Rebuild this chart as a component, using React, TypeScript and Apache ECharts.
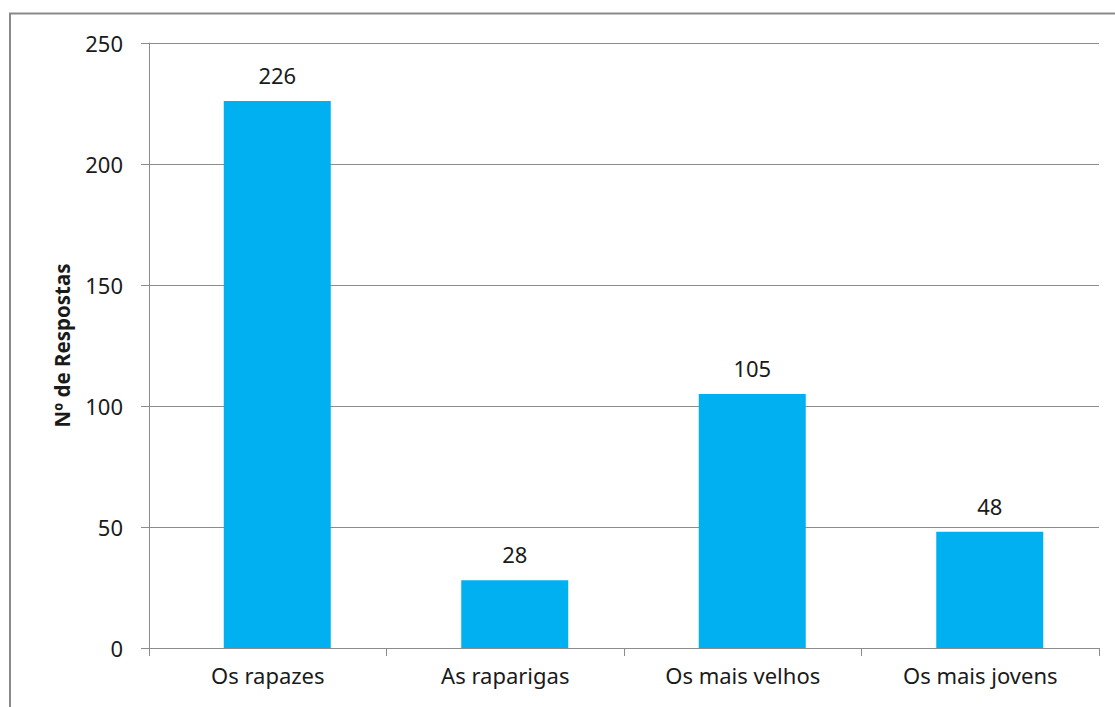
import React, { useEffect, useRef } from "react";
import * as echarts from "echarts";

const categories = ["Os rapazes", "As raparigas", "Os mais velhos", "Os mais jovens"];
const responses = [226, 28, 105, 48];
const spacer = ["-", "-", "-", "-"];
const yTicks = { min: 0, max: 250, interval: 50 };
const yAxisName = "Nº de Respostas";

export default function App() {
  const ref = useRef<HTMLDivElement>(null);
  useEffect(() => {
    const chart = echarts.init(ref.current!, undefined, { renderer: "svg" });
    const font = "Noto Sans";
    chart.setOption({
      animation: false,
      backgroundColor: "#ffffff",
      textStyle: { fontFamily: font, color: "#1a1a1a" },
      graphic: [
        {
          type: "rect",
          shape: { x: 10, y: 13.5, width: 1200, height: 800 },
          style: { fill: "none", stroke: "#898989", lineWidth: 2 },
          silent: true,
        },
      ],
      grid: { left: 149, top: 43, right: 16, bottom: 59, containLabel: false },
      xAxis: {
        type: "category",
        data: categories,
        boundaryGap: true,
        axisLine: { show: true, lineStyle: { color: "#8c8c8c", width: 1 } },
        axisTick: { show: true, length: 8, lineStyle: { color: "#8c8c8c" } },
        axisLabel: { fontSize: 22, color: "#1a1a1a", margin: 16, fontFamily: font },
      },
      yAxis: {
        type: "value",
        min: yTicks.min,
        max: yTicks.max,
        interval: yTicks.interval,
        name: yAxisName,
        nameLocation: "middle",
        nameGap: 77,
        nameRotate: 90,
        nameTextStyle: { fontSize: 20.5, fontWeight: "bold", color: "#1a1a1a", fontFamily: font },
        axisLine: { show: true, lineStyle: { color: "#8c8c8c", width: 1 } },
        axisTick: { show: true, length: 8, lineStyle: { color: "#8c8c8c" } },
        axisLabel: { fontSize: 22, color: "#1a1a1a", margin: 26, fontFamily: font },
        splitLine: { show: true, lineStyle: { color: "#8c8c8c", width: 1 } },
      },
      series: [
        {
          type: "bar",
          data: spacer,
          barWidth: 19,
          barGap: 0,
          silent: true,
        },
        {
          type: "bar",
          data: responses,
          barWidth: 107,
          barGap: 0,
          itemStyle: { color: "#00B0F0" },
          label: {
            show: true,
            position: "top",
            distance: 15,
            fontSize: 22,
            color: "#1a1a1a",
            fontFamily: font,
          },
        },
      ],
    });
    return () => chart.dispose();
  }, []);
  return (
    <div
      ref={ref}
      style={{ position: "fixed", left: 0, top: 0, width: 1115, height: 707 }}
    />
  );
}
